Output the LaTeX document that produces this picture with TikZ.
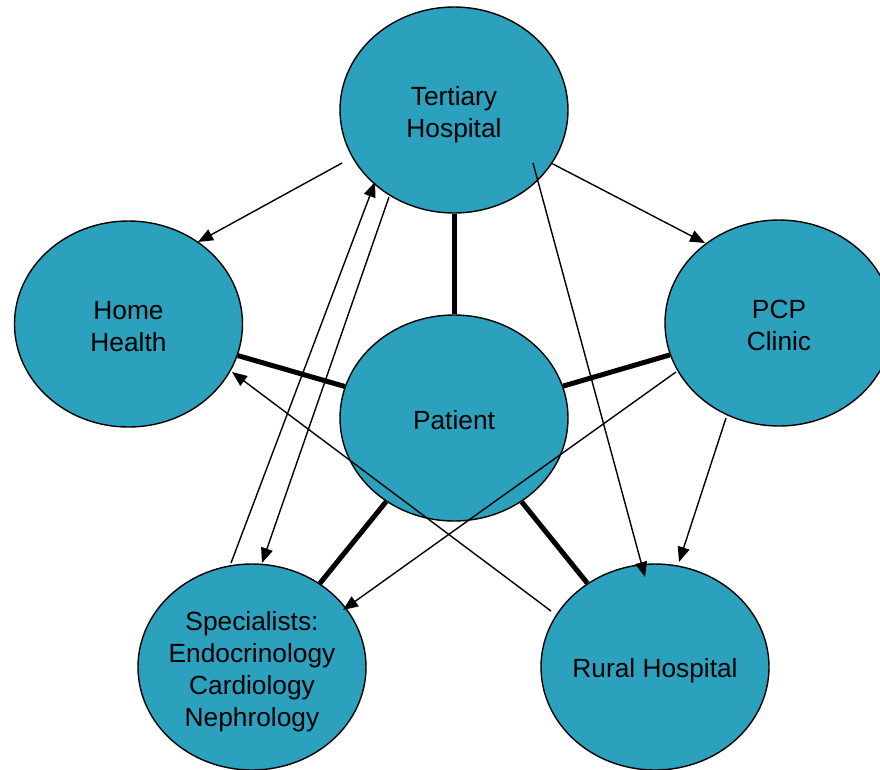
\documentclass[tikz,border=0pt]{standalone}
\usepackage{fontspec}
\setmainfont{Liberation Sans}
\usetikzlibrary{arrows.meta,calc,shapes.geometric}
\definecolor{nodeblue}{RGB}{44,161,190}
\begin{document}
\begin{tikzpicture}[x=1pt,y=-1pt,
  bubble/.style={ellipse,draw=black,line width=1.4pt,fill=nodeblue,minimum width=228pt,minimum height=206pt,inner sep=0pt},
  btext/.style={align=center,inner sep=0pt,font=\fontsize{26.3}{31.8}\selectfont},
  thick link/.style={line width=5pt},
  arr/.style={line width=1.4pt,-{Triangle[length=15pt,width=12pt]}}]
\useasboundingbox (0,0) rectangle (880,769);
\clip (0,0) rectangle (880,769);
\node[bubble,label={[btext,yshift=-5pt]center:{Tertiary\\Hospital}}] (tert) at (454,110) {};
\node[bubble,label={[btext,yshift=-2.5pt]center:{Home\\Health}}] (home) at (128.5,324) {};
\node[bubble,label={[btext,yshift=-2.5pt]center:{PCP\\Clinic}}] (pcp) at (779,323) {};
\node[bubble,label={[btext,yshift=-2pt]center:{Patient}}] (pat) at (454,418) {};
\node[bubble,label={[btext,yshift=-4.5pt]center:{Specialists:\\Endocrinology\\Cardiology\\Nephrology}}] (spec) at (252,667) {};
\node[bubble,label={[btext,yshift=-4pt]center:{Rural Hospital}}] (rural) at (655,667) {};
% thick links to patient
\draw[thick link] (pat) -- (tert);
\draw[thick link] (pat) -- (home);
\draw[thick link] (pat) -- (pcp);
\draw[thick link] (pat) -- (spec);
\draw[thick link] (pat) -- (rural);
% arrow end points
\coordinate (a1s) at ($(tert.center)+(-112,53)$);
\coordinate (a1e) at ($(home.center)+(69.5,-82)$);
\coordinate (a2s) at ($(spec.center)+(-21,-104)$);
\coordinate (a2e) at ($(tert.center)+(-79,72)$);
\coordinate (a3s) at ($(tert.center)+(-65,87)$);
\coordinate (a3e) at ($(spec.center)+(10,-104)$);
\coordinate (a4s) at ($(tert.center)+(97,53)$);
\coordinate (a4e) at ($(pcp.center)+(-74,-80)$);
\coordinate (a5s) at ($(tert.center)+(79,53)$);
\coordinate (a5e) at ($(rural.center)+(-10,-90)$);
\coordinate (a6s) at ($(pcp.center)+(-53,95)$);
\coordinate (a6e) at ($(rural.center)+(24,-105)$);
\coordinate (a7s) at ($(pcp.center)+(-103,49)$);
\coordinate (a7e) at ($(spec.center)+(91,-57)$);
\coordinate (a8s) at ($(rural.center)+(-104,-56)$);
\coordinate (a8e) at ($(home.center)+(103.5,48)$);
\draw[arr] (a1s) -- (a1e);
\draw[arr] (a2s) -- (a2e);
\draw[arr] (a3s) -- (a3e);
\draw[arr] (a4s) -- (a4e);
\draw[arr] (a5s) -- (a5e);
\draw[arr] (a6s) -- (a6e);
\draw[arr] (a7s) -- (a7e);
\draw[arr] (a8s) -- (a8e);
\end{tikzpicture}
\end{document}
